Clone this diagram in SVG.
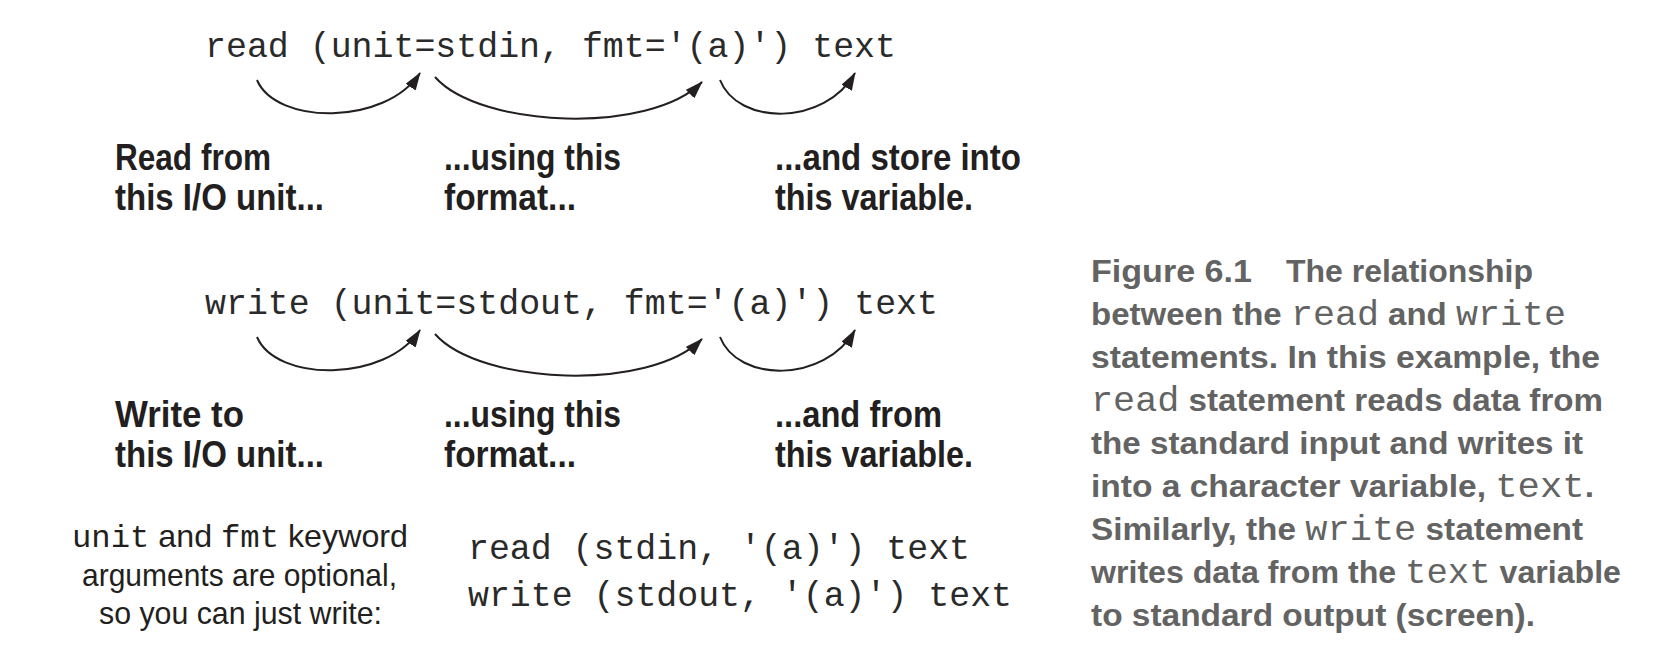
<svg xmlns="http://www.w3.org/2000/svg" width="1664" height="665" viewBox="0 0 1664 665">
<defs>
<style>
.code{font-family:"Courier New","Liberation Mono",monospace;font-size:35px;fill:#2a2a2a}
.lbl{font-family:"Liberation Sans Narrow","Liberation Sans",sans-serif;font-weight:bold;font-size:37px;fill:#231f20}
.note{font-family:"Liberation Sans Narrow","Liberation Sans",sans-serif;font-size:32px;fill:#231f20}
.nm{font-family:"Courier New","Liberation Mono",monospace;font-size:32px}
.cap{font-family:"Liberation Sans",Arial,sans-serif;font-weight:bold;font-size:31.5px;fill:#636363}
.cm{font-family:"Courier New","Liberation Mono",monospace;font-weight:normal;font-size:35px}
.arc{fill:none;stroke:#231f20;stroke-width:2;marker-end:url(#ah)}
</style>
<marker id="ah" viewBox="0 0 18 12" refX="17" refY="6" markerWidth="18" markerHeight="12" markerUnits="userSpaceOnUse" orient="auto">
<path d="M0,0 L18,6 L0,12 z" fill="#231f20"/>
</marker>
</defs>
<rect width="1664" height="665" fill="#ffffff"/>

<g id="read-statement">
<text class="code" x="205" y="57" textLength="691" lengthAdjust="spacingAndGlyphs">read (unit=stdin, fmt='(a)') text</text>
</g>
<g id="read-label-unit">
<text class="lbl" x="115" y="170" textLength="156" lengthAdjust="spacingAndGlyphs">Read from</text>
<text class="lbl" x="115" y="210" textLength="209" lengthAdjust="spacingAndGlyphs">this I/O unit...</text>
</g>
<g id="read-label-format">
<text class="lbl" x="444" y="170" textLength="177" lengthAdjust="spacingAndGlyphs">...using this</text>
<text class="lbl" x="444" y="210" textLength="132" lengthAdjust="spacingAndGlyphs">format...</text>
</g>
<g id="read-label-var">
<text class="lbl" x="775" y="170" textLength="246" lengthAdjust="spacingAndGlyphs">...and store into</text>
<text class="lbl" x="775" y="210" textLength="198" lengthAdjust="spacingAndGlyphs">this variable.</text>
</g>

<g id="write-statement">
<text class="code" x="205" y="314" textLength="733" lengthAdjust="spacingAndGlyphs">write (unit=stdout, fmt='(a)') text</text>
</g>
<g id="write-label-unit">
<text class="lbl" x="115" y="427" textLength="129" lengthAdjust="spacingAndGlyphs">Write to</text>
<text class="lbl" x="115" y="467" textLength="209" lengthAdjust="spacingAndGlyphs">this I/O unit...</text>
</g>
<g id="write-label-format">
<text class="lbl" x="444" y="427" textLength="177" lengthAdjust="spacingAndGlyphs">...using this</text>
<text class="lbl" x="444" y="467" textLength="132" lengthAdjust="spacingAndGlyphs">format...</text>
</g>
<g id="write-label-var">
<text class="lbl" x="775" y="427" textLength="167" lengthAdjust="spacingAndGlyphs">...and from</text>
<text class="lbl" x="775" y="467" textLength="198" lengthAdjust="spacingAndGlyphs">this variable.</text>
</g>

<g id="connectors">
<path class="arc" d="M257,80 C276,125 385,126 420,73"/>
<path class="arc" d="M435,77 C480,128 650,135 702,82"/>
<path class="arc" d="M720,80 C738,126 825,126 855,73"/>
<path class="arc" d="M257,337 C276,382 385,383 420,330"/>
<path class="arc" d="M435,334 C480,385 650,392 702,339"/>
<path class="arc" d="M720,337 C738,383 825,383 855,330"/>
</g>

<g id="note">
<text class="note" x="72" y="547" textLength="336" lengthAdjust="spacingAndGlyphs"><tspan class="nm">unit</tspan> and <tspan class="nm">fmt</tspan> keyword</text>
<text class="note" x="82" y="586" textLength="315" lengthAdjust="spacingAndGlyphs">arguments are optional,</text>
<text class="note" x="99" y="624" textLength="283" lengthAdjust="spacingAndGlyphs">so you can just write:</text>
</g>
<g id="short-form">
<text class="code" x="468" y="559" textLength="502" lengthAdjust="spacingAndGlyphs">read (stdin, '(a)') text</text>
<text class="code" x="468" y="606" textLength="544" lengthAdjust="spacingAndGlyphs">write (stdout, '(a)') text</text>
</g>

<g id="caption">
<text class="cap" x="1091" y="282" textLength="161" lengthAdjust="spacingAndGlyphs">Figure 6.1</text>
<text class="cap" x="1286" y="282" textLength="247" lengthAdjust="spacingAndGlyphs">The relationship</text>
<text class="cap" x="1091" y="325" textLength="475" lengthAdjust="spacingAndGlyphs">between the <tspan class="cm">read</tspan> and <tspan class="cm">write</tspan></text>
<text class="cap" x="1091" y="368" textLength="509" lengthAdjust="spacingAndGlyphs">statements. In this example, the</text>
<text class="cap" x="1091" y="411" textLength="512" lengthAdjust="spacingAndGlyphs"><tspan class="cm">read</tspan> statement reads data from</text>
<text class="cap" x="1091" y="454" textLength="492" lengthAdjust="spacingAndGlyphs">the standard input and writes it</text>
<text class="cap" x="1091" y="497" textLength="503" lengthAdjust="spacingAndGlyphs">into a character variable, <tspan class="cm">text</tspan>.</text>
<text class="cap" x="1091" y="540" textLength="492" lengthAdjust="spacingAndGlyphs">Similarly, the <tspan class="cm">write</tspan> statement</text>
<text class="cap" x="1091" y="583" textLength="530" lengthAdjust="spacingAndGlyphs">writes data from the <tspan class="cm">text</tspan> variable</text>
<text class="cap" x="1091" y="626" textLength="444" lengthAdjust="spacingAndGlyphs">to standard output (screen).</text>
</g>
</svg>
